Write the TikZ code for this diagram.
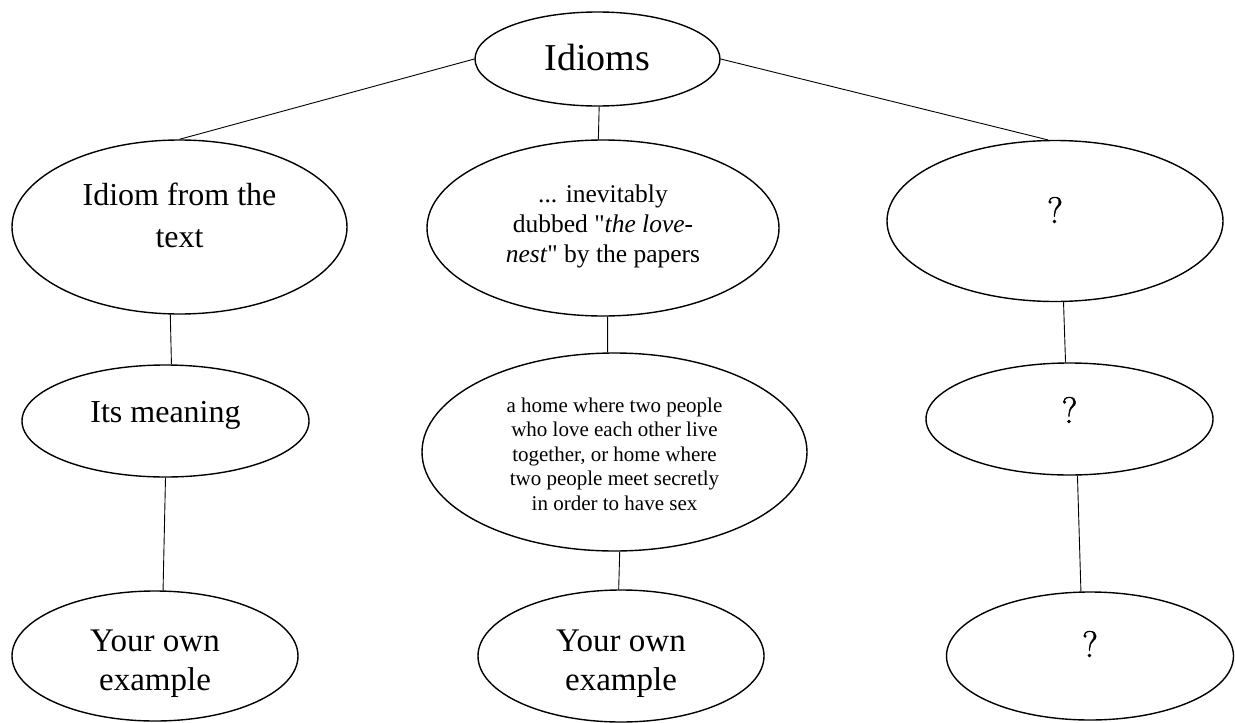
\documentclass[tikz,border=0pt]{standalone}
\usepackage{fontspec}
\setmainfont{Liberation Serif}
\newfontfamily\plainfont{Liberation Serif}
\newfontfamily\lmfont{Latin Modern Roman}[FakeBold=1.2]
\usetikzlibrary{shapes.geometric}
\newcommand\dq{{\plainfont"}}
\newcommand\txt[2]{\raisebox{#1}[0pt][0pt]{\begin{tabular}[b]{@{}c@{}}#2\end{tabular}}}
\tikzset{
  oval/.style={ellipse, draw, line width=1.4pt, inner sep=0pt, align=center},
  link/.style={draw, line width=0.9pt},
  big/.style={font=\fontsize{32}{42}\selectfont},
  qm/.style={font=\lmfont\fontsize{37}{40}\selectfont},
  own/.style={font=\fontsize{33}{39}\selectfont},
}
\begin{document}
\begin{tikzpicture}[x=1pt,y=-1pt]
\useasboundingbox (0,0) rectangle (1235,723);
% top
\node[oval, minimum width=245pt, minimum height=94pt, font=\fontsize{38}{44}\selectfont] (idioms) at (597.5,59) {\txt{-11pt}{Idioms}};
% first row
\node[oval, minimum width=335pt, minimum height=174pt, big] (left1) at (179.5,227) {\txt{-20pt}{Idiom from the\\text}};
\node[oval, minimum width=352pt, minimum height=176pt, font=\fontsize{25.5}{30}\selectfont] (mid1) at (603,228) {\txt{-34pt}{... inevitably\\dubbed \dq\textit{the love-}\\\textit{nest}\dq{} by the papers}};
\node[oval, minimum width=336pt, minimum height=161pt, qm] (right1) at (1055,221) {\txt{-2pt}{?}};
% second row
\node[oval, minimum width=287pt, minimum height=112pt, big] (meaning) at (165.5,421) {\txt{-1pt}{Its meaning}};
\node[oval, minimum width=385pt, minimum height=198pt, font=\fontsize{21}{24.5}\selectfont] (mid2) at (614.5,452) {\txt{-58pt}{a home where two people\\who love each other live\\together, or home where\\two people meet secretly\\in order to have sex}};
\node[oval, minimum width=287pt, minimum height=112pt, qm] (right2) at (1069.5,419) {\txt{-4pt}{?}};
% third row
\node[oval, minimum width=286pt, minimum height=130pt, own] (your1) at (155,656) {\txt{-34pt}{Your own\\example}};
\node[oval, minimum width=286pt, minimum height=132pt, own] (your2) at (621,656) {\txt{-34pt}{Your own\\example}};
\node[oval, minimum width=287pt, minimum height=128pt, qm] (right3) at (1090,656) {\txt{-1pt}{?}};
% connectors
\path[link] (idioms.west) -- (left1.north);
\path[link] (idioms.272) -- (mid1.93);
\path[link] (idioms.east) -- (right1.95);
\path[link] (left1.264) -- (meaning.84);
\path[link] (meaning.south) -- (your1.83);
\path[link] (mid1.273) -- (mid2.94);
\path[link] (mid2.273) -- (your2.92);
\path[link] (right1.276) -- (right2.94);
\path[link] (right2.278) -- (right3.98);
\end{tikzpicture}
\end{document}
